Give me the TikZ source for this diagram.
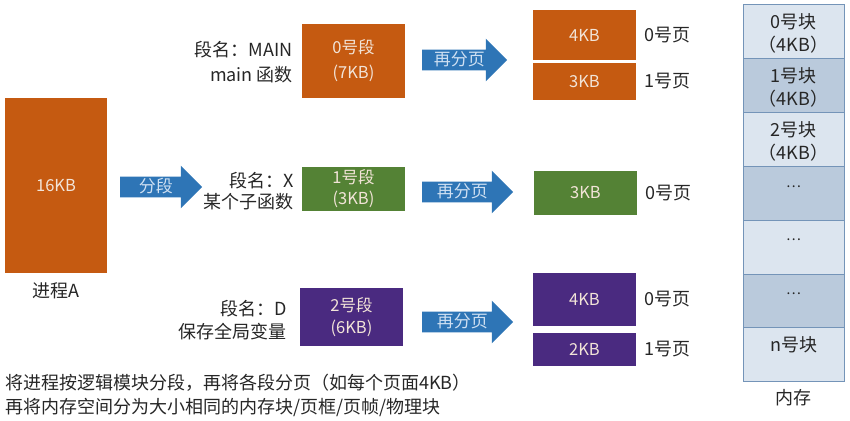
\documentclass[tikz,border=0pt]{standalone}
\usepackage{fontspec}
\setmainfont{Noto Sans CJK SC}
\usetikzlibrary{shapes.arrows,positioning}
\definecolor{segorange}{HTML}{C55A11}
\definecolor{seggreen}{HTML}{548235}
\definecolor{segpurple}{HTML}{4A2A80}
\definecolor{arrowblue}{HTML}{2E75B6}
\definecolor{arrowtext}{HTML}{CFE0F2}
\definecolor{boxtext}{HTML}{F2E4D8}
\definecolor{memline}{HTML}{7494B8}
\definecolor{memlight}{HTML}{DCE5EF}
\definecolor{memdark}{HTML}{BACADC}
\definecolor{ink}{HTML}{262626}
\begin{document}
\begin{tikzpicture}[x=1pt,y=-1pt,font=\fontsize{18}{24}\selectfont,text=ink,
  seg/.style={fill=#1,text=boxtext,minimum width=103pt,inner sep=0pt,align=center,
    font=\fontsize{16.5}{25}\selectfont},
  fat/.style={single arrow,fill=arrowblue,text=arrowtext,single arrow head extend=11pt,
    font=\fontsize{17}{20}\selectfont,text height=14pt,text depth=3.5pt,inner ysep=1.5pt,
    inner xsep=4pt,minimum height=#1,anchor=west},
  blk/.style={draw=memline,line width=1pt,fill=#1,minimum width=101pt,minimum height=53.8pt,inner sep=0pt},
  lab/.style={align=right,anchor=east,inner sep=0pt}]
\useasboundingbox (0,0) rectangle (850,420);

% process and segments
\node[seg=segorange,minimum width=102pt,minimum height=175pt] (procA) at (56,185.5) {16KB};
\node[below=6pt of procA] (procname) {进程A};
\node[fat=82pt] (cut) at (120,187) {分段};

\node[seg=segorange,minimum height=74pt] (seg0) at (353.5,61) {0号段\\(7KB)};
\node[seg=seggreen,minimum height=44pt,font=\fontsize{16.5}{21}\selectfont] (seg1) at (353.5,189) {1号段\\(3KB)};
\node[seg=segpurple,minimum height=58pt,font=\fontsize{16.5}{22}\selectfont] (seg2) at (351.5,317) {2号段\\(6KB)};

\node[lab,font=\fontsize{18}{25}\selectfont] (name0) at (293,62) {段名：MAIN\\main 函数};
\node[lab,font=\fontsize{18}{20.5}\selectfont] (name1) at (294,191) {段名：X\\某个子函数};
\node[lab,font=\fontsize{18}{22.5}\selectfont] (name2) at (287,320) {段名：D\\保存全局变量};

% paging
\node[fat=85pt] (page0) at (422,60) {再分页};
\node[fat=91pt] (page1) at (422,192) {再分页};
\node[fat=91pt] (page2) at (422,322) {再分页};

\node[seg=segorange,minimum height=50pt] (p00) at (584.5,35) {4KB};
\node[seg=segorange,minimum height=37pt] (p01) at (584.5,81.5) {3KB};
\node[seg=seggreen,minimum height=44pt] (p10) at (585.5,193) {3KB};
\node[seg=segpurple,minimum height=53pt] (p20) at (584.5,299.5) {4KB};
\node[seg=segpurple,minimum height=33pt] (p21) at (584.5,349.5) {2KB};

\node[right=5pt of p00] (n00) {0号页};
\node[right=5pt of p01] (n01) {1号页};
\node[right=5pt of p10] (n10) {0号页};
\node[right=5pt of p20] (n20) {0号页};
\node[right=5pt of p21] (n21) {1号页};

% memory
\foreach \i/\c in {0/memlight,1/memdark,2/memlight,3/memdark,4/memlight,5/memdark,6/memlight}
  \node[blk=\c] (mem\i) at (793.5,{31.9+53.8*\i}) {};
\node[align=center,font=\fontsize{18}{23}\selectfont] (t0) at ([yshift=-1.5pt]mem0.center) {0号块\\（4KB）};
\node[align=center,font=\fontsize{18}{23}\selectfont] (t1) at ([yshift=-1.5pt]mem1.center) {1号块\\（4KB）};
\node[align=center,font=\fontsize{18}{23}\selectfont] (t2) at ([yshift=-1.5pt]mem2.center) {2号块\\（4KB）};
\foreach \i in {3,4,5}
  \node[font=\fontsize{14}{17}\selectfont] (t\i) at ([yshift=7pt]mem\i.center) {…};
\node (t6) at ([yshift=10pt]mem6.center) {n号块};
\node[below=4pt of mem6] (memname) {内存};

\node[anchor=west,inner sep=0pt] (note1) at (5,383) {将进程按逻辑模块分段，再将各段分页（如每个页面4KB）};
\node[anchor=west,inner sep=0pt] (note2) at (5,407) {再将内存空间分为大小相同的内存块/页框/页帧/物理块};
\end{tikzpicture}
\end{document}
